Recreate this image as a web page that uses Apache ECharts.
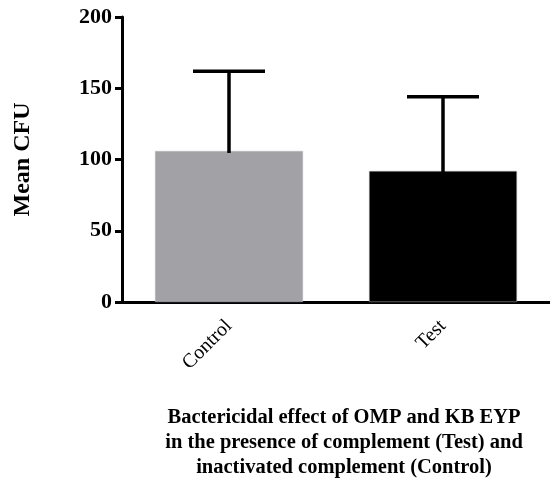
<!DOCTYPE html>
<html><head><meta charset="utf-8">
<script src="https://cdn.jsdelivr.net/npm/echarts@6/dist/echarts.min.js"></script>
<style>html,body{margin:0;padding:0;background:#fff}#c{width:550px;height:485px}</style>
</head><body><div id="c"></div>
<script>
const categories = ['Control', 'Test'];
const means = [106, 92];
const sds = [56, 52];
const barColors = ['#a2a1a6', '#000000'];
const yTicks = [0, 50, 100, 150, 200];

const chart = echarts.init(document.getElementById('c'));
const serif = '"Liberation Serif", "DejaVu Serif", serif';
chart.setOption({
  animation: false,
  grid: { left: 122, right: -9, top: 17, bottom: 161 },
  xAxis: {
    type: 'category',
    data: categories,
    axisLine: { lineStyle: { color: '#000', width: 3 } },
    axisTick: { alignWithLabel: true, length: 7, lineStyle: { color: '#000', width: 3 } },
    axisLabel: { rotate: 45, margin: 21, fontFamily: serif, fontSize: 20, color: '#000' },
    name: 'Bactericidal effect of OMP and KB EYP\nin the presence of complement (Test) and\ninactivated complement (Control)',
    nameLocation: 'middle',
    nameGap: 103,
    nameTextStyle: { fontFamily: serif, fontSize: 20.5, fontWeight: 'bold', color: '#000', lineHeight: 25, align: 'center', padding: [0, 0, 0, 16] }
  },
  yAxis: {
    type: 'value',
    min: 0, max: 200, interval: 50,
    splitLine: { show: false },
    axisLine: { show: true, lineStyle: { color: '#000', width: 3 } },
    axisTick: { show: true, length: 7, lineStyle: { color: '#000', width: 3 } },
    axisLabel: { margin: 10, fontFamily: serif, fontSize: 22, fontWeight: 'bold', color: '#000',
      formatter: v => yTicks.includes(v) ? String(v) : '' },
    name: 'Mean CFU',
    nameLocation: 'middle',
    nameGap: 87,
    nameTextStyle: { fontFamily: serif, fontSize: 24, fontWeight: 'bold', color: '#000' }
  },
  series: [
    {
      type: 'bar',
      barWidth: 148,
      data: means.map((v, i) => ({ value: v, itemStyle: { color: barColors[i], borderColor: '#bbb', borderWidth: 0.5 } })),
      z: 2
    },
    {
      type: 'custom',
      z: 3,
      data: means.map((v, i) => [i, v, v + sds[i]]),
      renderItem: function (params, api) {
        const x = api.value(0);
        const lo = api.coord([x, api.value(1)]);
        const hi = api.coord([x, api.value(2)]);
        const half = 36;
        return {
          type: 'group',
          children: [
            { type: 'line', shape: { x1: lo[0], y1: lo[1] + 2, x2: hi[0], y2: hi[1] }, style: { stroke: '#000', lineWidth: 3.5 } },
            { type: 'line', shape: { x1: hi[0] - half, y1: hi[1], x2: hi[0] + half, y2: hi[1] }, style: { stroke: '#000', lineWidth: 3.5 } }
          ]
        };
      }
    }
  ]
});
</script></body></html>
